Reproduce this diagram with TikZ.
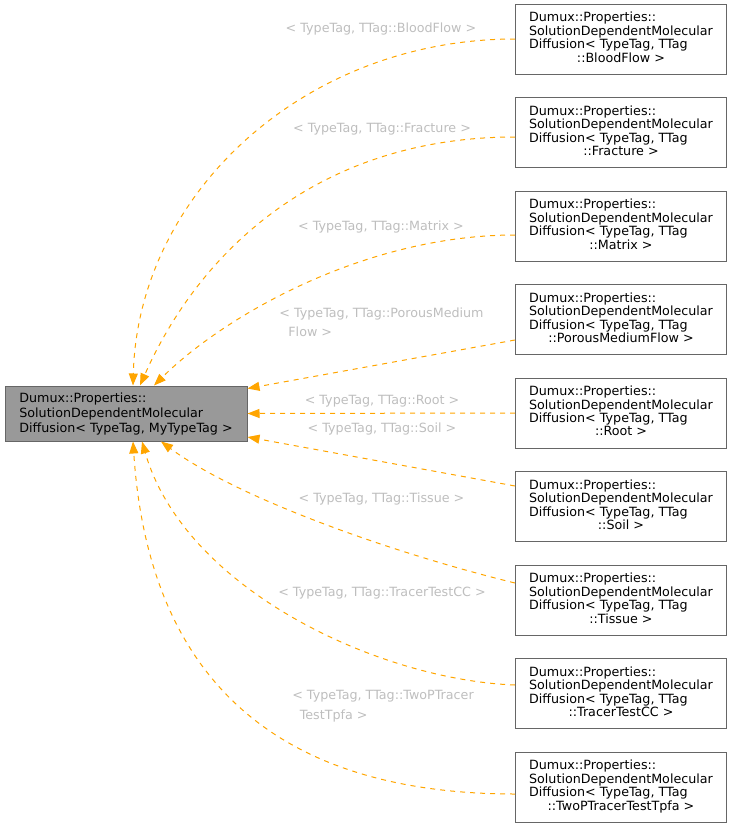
\documentclass[tikz,border=0pt]{standalone}
\usepackage{fontspec}
\setmainfont{DejaVu Sans}
\usepackage{tikz}
\usetikzlibrary{arrows.meta,positioning}
\definecolor{dgorange}{HTML}{FFA500}
\definecolor{dgborder}{HTML}{666666}
\definecolor{dgfill}{HTML}{999999}
\definecolor{dglabel}{HTML}{BEBEBE}
\newcommand{\ttagname}[1]{\begin{tabular}{@{}l@{}}Dumux::Properties::\\SolutionDependentMolecular\\Diffusion< TypeTag, TTag\\\multicolumn{1}{@{}c@{}}{::#1 >}\end{tabular}}
\tikzset{
  mainnode/.style={draw=dgborder, fill=dgfill, line width=1pt, align=left, font=\fontsize{12.7}{15}\selectfont, minimum width=242pt, minimum height=55pt, inner sep=0pt},
  propbox/.style={draw=dgborder, fill=white, line width=1pt, font=\fontsize{12.7}{12.8}\selectfont, minimum width=211pt, minimum height=70pt, inner sep=0pt},
  inherit/.style={-{Triangle[length=12pt,width=9pt]}, dash pattern=on 5pt off 5pt, line width=1pt, draw=dgorange},
  tlabel/.style={text=dglabel, align=left, font=\fontsize{12.7}{19.5}\selectfont, inner sep=0pt}
}
\begin{document}
\begin{tikzpicture}[x=1pt,y=-1pt]
  \useasboundingbox (0,0) rectangle (732,827);
  \node[mainnode] (main) at (126,413.5) {Dumux::Properties::\\SolutionDependentMolecular\\Diffusion< TypeTag, MyTypeTag >};
  \node[propbox] (r1) at (621,39) {\ttagname{BloodFlow}};
  \node[propbox] (r2) at (621,132.5) {\ttagname{Fracture}};
  \node[propbox] (r3) at (621,226) {\ttagname{Matrix}};
  \node[propbox] (r4) at (621,319.5) {\ttagname{PorousMediumFlow}};
  \node[propbox] (r5) at (621,413) {\ttagname{Root}};
  \node[propbox] (r6) at (621,506.5) {\ttagname{Soil}};
  \node[propbox] (r7) at (621,600) {\ttagname{Tissue}};
  \node[propbox] (r8) at (621,693.5) {\ttagname{TracerTestCC}};
  \node[propbox] (r9) at (621,787) {\ttagname{TwoPTracerTestTpfa}};
  \draw[inherit] (r1.west) .. controls (304,39) and (138,194) .. ([xshift=7pt]main.north);
  \draw[inherit] ([yshift=-4.5pt]r2.west) .. controls (320,137) and (200,250) .. ([xshift=14pt]main.north);
  \draw[inherit] ([yshift=-9pt]r3.west) .. controls (365,235) and (224,316) .. ([xshift=28pt]main.north);
  \draw[inherit] ([yshift=-20.5pt]r4.west) -- ([yshift=25pt]main.east);
  \draw[inherit] (r5.west) -- (main.east);
  \draw[inherit] ([yshift=20.5pt]r6.west) -- ([yshift=-23.5pt]main.east);
  \draw[inherit] ([yshift=17pt]r7.west) .. controls (400,555) and (240,500) .. ([xshift=35pt]main.south);
  \draw[inherit] ([yshift=8.5pt]r8.west) .. controls (380,680) and (185,590) .. ([xshift=16pt]main.south);
  \draw[inherit] ([yshift=-7pt]r9.west) .. controls (300,794) and (150,700) .. ([xshift=7pt]main.south);
  \node[tlabel] (l1) at (381,29) {< TypeTag, TTag::BloodFlow >};
  \node[tlabel] (l2) at (382,129) {< TypeTag, TTag::Fracture >};
  \node[tlabel] (l3) at (381,227) {< TypeTag, TTag::Matrix >};
  \node[tlabel] (l4) at (381.5,322.5) {< TypeTag, TTag::PorousMedium\\\hspace*{9pt}Flow >};
  \node[tlabel] (l5) at (382,401.5) {< TypeTag, TTag::Root >};
  \node[tlabel] (l6) at (382,429) {< TypeTag, TTag::Soil >};
  \node[tlabel] (l7) at (381.5,499) {< TypeTag, TTag::Tissue >};
  \node[tlabel] (l8) at (382,593.5) {< TypeTag, TTag::TracerTestCC >};
  \node[tlabel] (l9) at (383,706) {< TypeTag, TTag::TwoPTracer\\\hspace*{7.5pt}TestTpfa >};
\end{tikzpicture}
\end{document}
